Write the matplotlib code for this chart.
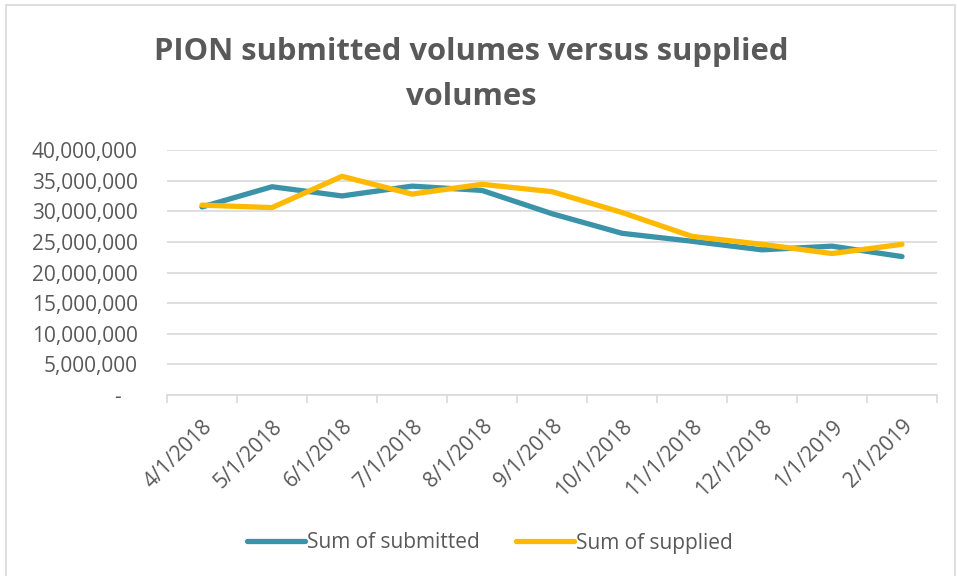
import matplotlib
matplotlib.use("Agg")
import matplotlib.pyplot as plt
from matplotlib.ticker import FuncFormatter, FixedLocator
from matplotlib.patches import Rectangle

categories = ["4/1/2018", "5/1/2018", "6/1/2018", "7/1/2018", "8/1/2018", "9/1/2018",
              "10/1/2018", "11/1/2018", "12/1/2018", "1/1/2019", "2/1/2019"]
submitted = [30.7e6, 34.0e6, 32.5e6, 34.1e6, 33.4e6, 29.6e6, 26.4e6, 25.1e6, 23.7e6, 24.3e6, 22.6e6]
supplied = [31.0e6, 30.6e6, 35.7e6, 32.8e6, 34.4e6, 33.2e6, 29.8e6, 25.9e6, 24.6e6, 23.1e6, 24.6e6]
series_names = ["Sum of submitted", "Sum of supplied"]
title_lines = ["PION submitted volumes versus supplied", "volumes"]

TEAL = "#3A93A8"
GOLD = "#FFB900"
TXT = "#595959"
GRID = "#D9D9D9"

plt.rcParams['font.family'] = ['Open Sans', 'DejaVu Sans']

fig = plt.figure(figsize=(9.57, 5.76), dpi=100)
ax = fig.add_axes([167/957, 1-395/576, (937-167)/957, (395-150)/576])

x = list(range(len(categories)))
ax.plot(x, submitted, color=TEAL, lw=3.8, solid_capstyle='round', solid_joinstyle='round', label=series_names[0], zorder=3)
ax.plot(x, supplied, color=GOLD, lw=3.8, solid_capstyle='round', solid_joinstyle='round', label=series_names[1], zorder=4)

ax.set_xlim(-0.5, len(categories) - 0.5)
ax.set_ylim(0, 40e6)
ax.yaxis.set_major_locator(FixedLocator([i * 5e6 for i in range(9)]))
ax.yaxis.set_major_formatter(FuncFormatter(lambda v, p: "-   " if v == 0 else f"{v:,.0f}"))
ax.grid(axis='y', color=GRID, lw=1.2)
ax.set_axisbelow(True)

ax.set_xticks(x)
ax.set_xticklabels(categories, rotation=45, ha='right', va='top', rotation_mode='anchor')
ax.xaxis.set_minor_locator(FixedLocator([i - 0.5 for i in range(len(categories) + 1)]))
ax.tick_params(axis='x', which='major', length=0, pad=15, labelsize=15, labelcolor=TXT)
ax.tick_params(axis='x', which='minor', length=5.8, color=GRID, width=1.2)
ax.tick_params(axis='y', length=0, pad=21, labelsize=15, labelcolor=TXT)

for s in ['top', 'right', 'left']:
    ax.spines[s].set_visible(False)
ax.spines['bottom'].set_color(GRID)
ax.spines['bottom'].set_linewidth(1.2)

fig.text(471/957, 1-60/576, title_lines[0], ha='center', va='baseline', fontsize=22.3,
         fontweight='bold', color=TXT)
fig.text(471/957, 1-105/576, title_lines[1], ha='center', va='baseline', fontsize=22.3,
         fontweight='bold', color=TXT)

leg = fig.legend(loc='center', bbox_to_anchor=(490/957, 1-543/576), ncol=2, frameon=False,
                 fontsize=15, handlelength=2.75, handletextpad=0.12, columnspacing=1.75)
for t in leg.get_texts():
    t.set_color(TXT)

fig.patches.append(Rectangle((6/957, -0.01), 1 - 6/957 - 2/957, 1.01 - 5/576, transform=fig.transFigure,
                             fill=False, edgecolor=GRID, lw=1.2))

fig.savefig("out.png", dpi=100)
